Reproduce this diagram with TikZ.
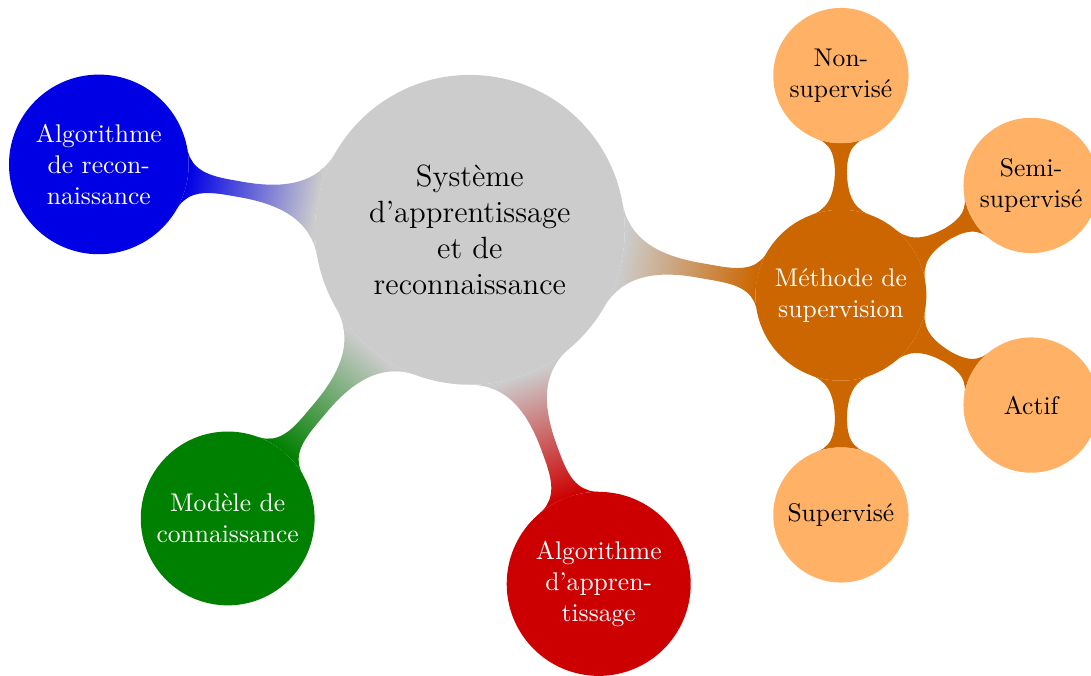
\documentclass[tikz,border=0pt]{standalone}
\usetikzlibrary{mindmap,backgrounds,calc}

\tikzset{
  rootidea/.style={concept, concept color=black!20, draw=none, text=black, font=\large,
    text width=3cm, minimum size=4.26cm, inner sep=0pt, align=center},
  branch/.style={concept, draw=none, text=white, font=\normalsize,
    text width=2cm, minimum size=2.4cm, inner sep=0pt, align=center},
  leaf/.style={concept, concept color=orange!80!black, draw=none, fill=orange!60, text=black,
    font=\normalsize, text width=1.5cm, minimum size=1.86cm, inner sep=0pt, align=center},
}

\begin{document}
\begin{tikzpicture}[mindmap]
\useasboundingbox (0,0) rectangle (15,-9.281);
\node[rootidea] (sys) at (6.46,-3.16) {Système\\d'apprentissage\\et de\\reconnaissance};
\node[branch, concept color=blue!90!black, minimum size=2.47cm] (reco) at ($(sys)+(170:5.18)$) {Algorithme\\de recon-\\naissance};
\node[branch, concept color=green!50!black, minimum size=2.39cm] (model) at ($(sys)+(230:5.18)$) {Modèle de\\connaissance};
\node[branch, concept color=red!80!black, minimum size=2.53cm] (appr) at ($(sys)+(290:5.18)$) {Algorithme\\d'appren-\\tissage};
\node[branch, concept color=orange!80!black, minimum size=2.35cm] (meth) at ($(sys)+(350:5.18)$) {Méthode de\\supervision};
\node[leaf] (nonsup) at ($(meth)+(90:3.02)$) {Non-\\supervisé};
\node[leaf] (semi) at ($(meth)+(30:3.02)$) {Semi-\\supervisé};
\node[leaf] (actif) at ($(meth)+(-30:3.02)$) {Actif};
\node[leaf] (sup) at ($(meth)+(-90:3.02)$) {Supervisé};
\begin{scope}[on background layer]
\path (sys) to[circle connection bar switch color=from (black!20) to (blue!90!black)] (reco);
\path (sys) to[circle connection bar switch color=from (black!20) to (green!50!black)] (model);
\path (sys) to[circle connection bar switch color=from (black!20) to (red!80!black)] (appr);
\path (sys) to[circle connection bar switch color=from (black!20) to (orange!80!black)] (meth);
\path (meth) to[circle connection bar switch color=from (orange!80!black) to (orange!80!black)] (nonsup);
\path (meth) to[circle connection bar switch color=from (orange!80!black) to (orange!80!black)] (semi);
\path (meth) to[circle connection bar switch color=from (orange!80!black) to (orange!80!black)] (actif);
\path (meth) to[circle connection bar switch color=from (orange!80!black) to (orange!80!black)] (sup);
\end{scope}
\end{tikzpicture}
\end{document}
